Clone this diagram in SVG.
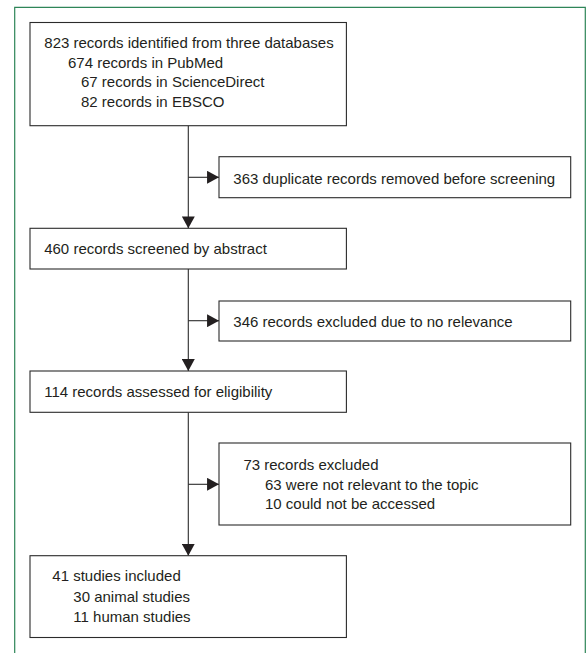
<svg xmlns="http://www.w3.org/2000/svg" width="587" height="653" viewBox="0 0 587 653">
<style>
.box{fill:#fff;stroke:#2b2b2b;stroke-width:1.1}
.t{font-family:"Liberation Sans",Arial,sans-serif;font-size:15px;fill:#231f20}
.ln{stroke:#2b2b2b;stroke-width:1.1;fill:none}
.frame{stroke:#2e8558;stroke-width:1.2;fill:none}
</style>
<defs>
<marker id="ah" markerUnits="userSpaceOnUse" markerWidth="12" markerHeight="13" viewBox="0 0 11 12" refX="11" refY="6" orient="auto">
<path d="M0,0 L11,6 L0,12 Z" fill="#231f20"/>
</marker>
</defs>
<rect width="587" height="653" fill="#fff"/>
<path class="frame" d="M14.7,653 V7.3 H585.3 V653"/>
<g id="connectors">
<line class="ln" x1="188.3" y1="125.7" x2="188.3" y2="228.3" marker-end="url(#ah)"/>
<line class="ln" x1="188.3" y1="177.3" x2="219" y2="177.3" marker-end="url(#ah)"/>
<line class="ln" x1="188.3" y1="269" x2="188.3" y2="371" marker-end="url(#ah)"/>
<line class="ln" x1="188.3" y1="320.7" x2="219" y2="320.7" marker-end="url(#ah)"/>
<line class="ln" x1="188.3" y1="412.3" x2="188.3" y2="555.7" marker-end="url(#ah)"/>
<line class="ln" x1="188.3" y1="484.3" x2="219" y2="484.3" marker-end="url(#ah)"/>
</g>
<g id="identified">
<rect class="box" x="30" y="22.5" width="316.4" height="103.2"/>
<text class="t" x="44.3" y="47.7">823 records identified from three databases</text>
<text class="t" x="68" y="67.5">674 records in PubMed</text>
<text class="t" x="81" y="87.2">67 records in ScienceDirect</text>
<text class="t" x="81" y="107">82 records in EBSCO</text>
</g>
<g id="duplicates">
<rect class="box" x="219" y="156.7" width="351.7" height="41"/>
<text class="t" x="233.3" y="183.5">363 duplicate records removed before screening</text>
</g>
<g id="screened">
<rect class="box" x="30" y="228.3" width="316.4" height="40.7"/>
<text class="t" x="44.2" y="253.5">460 records screened by abstract</text>
</g>
<g id="excluded-relevance">
<rect class="box" x="219" y="301" width="351.7" height="40"/>
<text class="t" x="233.3" y="326.5">346 records excluded due to no relevance</text>
</g>
<g id="eligibility">
<rect class="box" x="30" y="371" width="316.4" height="41.3"/>
<text class="t" x="44.2" y="397">114 records assessed for eligibility</text>
</g>
<g id="excluded">
<rect class="box" x="219" y="443" width="351.7" height="82"/>
<text class="t" x="243.4" y="469.5">73 records excluded</text>
<text class="t" x="265" y="489.5">63 were not relevant to the topic</text>
<text class="t" x="265" y="509">10 could not be accessed</text>
</g>
<g id="included">
<rect class="box" x="30" y="555.7" width="316.4" height="81.8"/>
<text class="t" x="52.3" y="580.7">41 studies included</text>
<text class="t" x="73.3" y="601.7">30 animal studies</text>
<text class="t" x="73.3" y="622.3">11 human studies</text>
</g>
</svg>
